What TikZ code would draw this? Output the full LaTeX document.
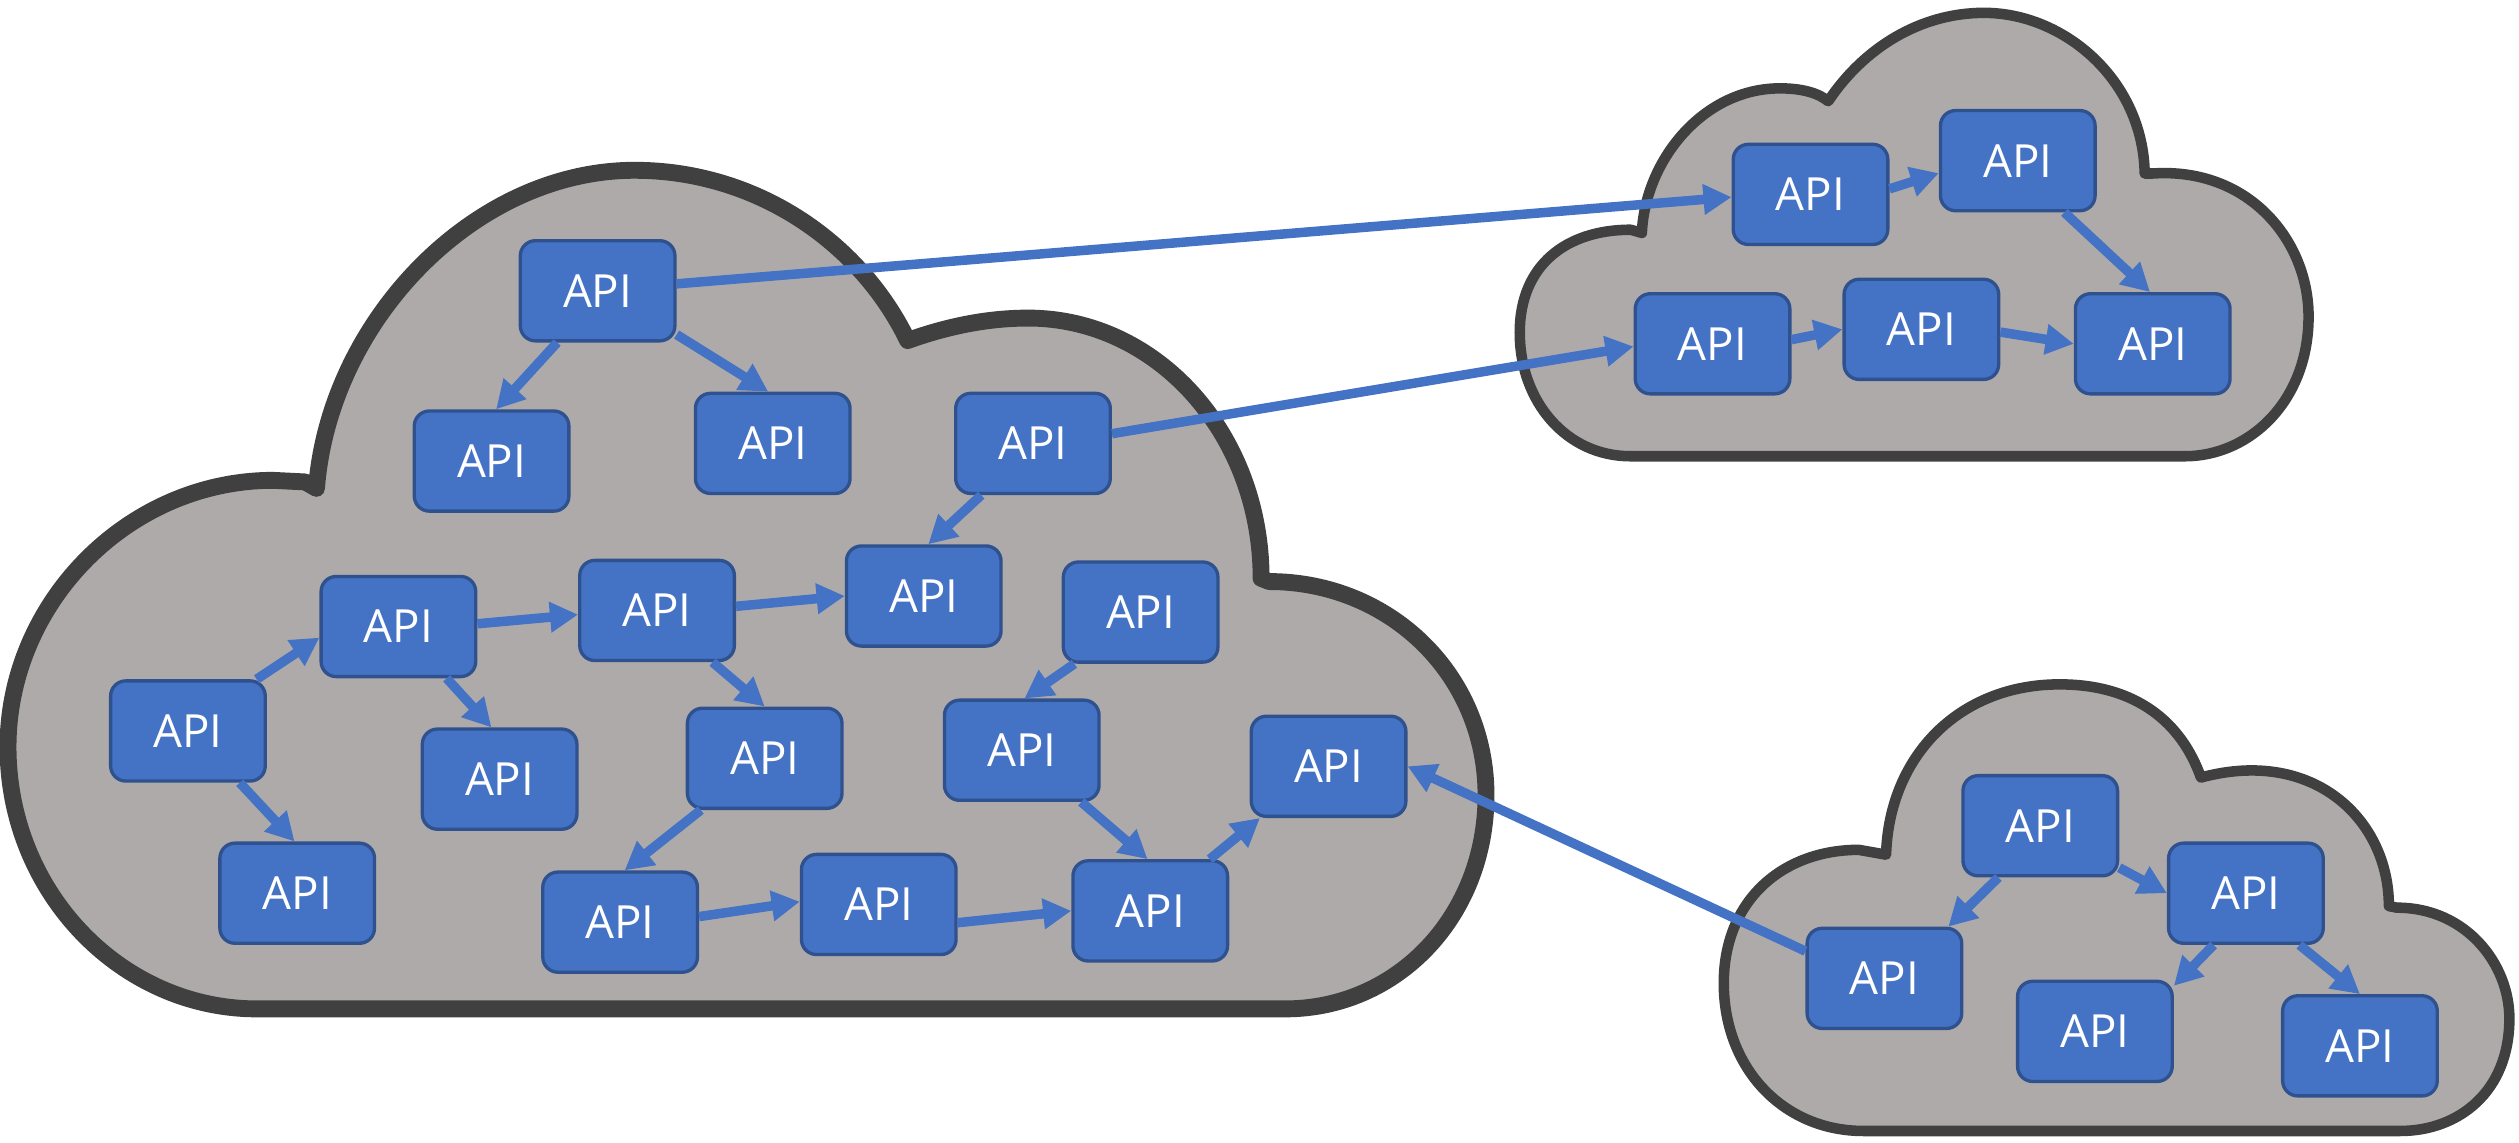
\documentclass[tikz,border=0pt]{standalone}
\usepackage{fontspec}
\setmainfont{Open Sans}
\usetikzlibrary{arrows.meta}
\definecolor{cloudfill}{HTML}{AEAAAA}
\definecolor{cloudline}{HTML}{404040}
\definecolor{apifill}{HTML}{4472C4}
\definecolor{apiline}{HTML}{2F528F}
\definecolor{linkblue}{HTML}{4472C4}
\begin{document}
\begin{tikzpicture}[x=0.016065cm, y=-0.016065cm,
  api/.style={draw=apiline, line width=0.95pt, fill=apifill, rounded corners=4.3pt,
    minimum width=44pt, minimum height=28.5pt, inner sep=0pt, text=white,
    font=\fontsize{13}{15}\selectfont},
  flow/.style={draw=linkblue, line width=2.7pt, -{Triangle[length=8pt,width=8.3pt]}},
  bigcloud/.style={fill=cloudfill, draw=cloudline, line width=4.8pt, line join=round},
  smallcloud/.style={fill=cloudfill, draw=cloudline, line width=3pt, line join=round}]
\useasboundingbox (0,0) rectangle (1568,711);

% large cloud
\path[bigcloud] (160,628)
  .. controls (75,628) and (5,555) .. (5,465)
  .. controls (5,375) and (80,299) .. (170,299)
  -- (190,300) -- (197,304)
  .. controls (205,200) and (295,106) .. (395,106)
  .. controls (470,106) and (535,150) .. (565,212)
  .. controls (590,203) and (615,198) .. (640,198)
  .. controls (720,198) and (785,270) .. (785,360)
  -- (790,362)
  .. controls (865,362) and (925,420) .. (925,495)
  .. controls (925,570) and (870,628) .. (800,628)
  -- cycle;

% upper right cloud
\path[smallcloud] (1015,284)
  .. controls (975,284) and (946,250) .. (946,207)
  .. controls (946,165) and (975,143) .. (1015,143)
  -- (1022,145)
  .. controls (1024,100) and (1060,55) .. (1108,55)
  .. controls (1122,55) and (1132,58) .. (1138,63)
  .. controls (1160,30) and (1195,8) .. (1235,8)
  .. controls (1285,8) and (1334,50) .. (1335,108)
  -- (1340,108)
  .. controls (1400,104) and (1437,150) .. (1437,197)
  .. controls (1437,250) and (1400,284) .. (1360,284)
  -- cycle;

% lower right cloud
\path[smallcloud] (1160,704)
  .. controls (1110,704) and (1073,665) .. (1073,612)
  .. controls (1073,560) and (1110,529) .. (1157,529)
  -- (1174,532)
  .. controls (1176,470) and (1220,426) .. (1282,426)
  .. controls (1330,426) and (1358,450) .. (1370,484)
  .. controls (1440,465) and (1487,510) .. (1487,564)
  -- (1492,565)
  .. controls (1535,565) and (1562,600) .. (1562,634)
  .. controls (1562,680) and (1530,704) .. (1494,704)
  -- cycle;

% API boxes
\node[api] (n1)  at (372,181) {API};
\node[api] (n2)  at (306,287) {API};
\node[api] (n3)  at (481,276) {API};
\node[api] (n4)  at (643,276) {API};
\node[api] (n5)  at (248,390) {API};
\node[api] (n6)  at (409,380) {API};
\node[api] (n7)  at (575,371) {API};
\node[api] (n8)  at (710,381) {API};
\node[api] (n9)  at (117,455) {API};
\node[api] (n10) at (311,485) {API};
\node[api] (n11) at (476,472) {API};
\node[api] (n12) at (636,467) {API};
\node[api] (n13) at (827,477) {API};
\node[api] (n14) at (185,556) {API};
\node[api] (n15) at (386,574) {API};
\node[api] (n16) at (547,563) {API};
\node[api] (n17) at (716,567) {API};
\node[api] (n18) at (1127,121) {API};
\node[api] (n19) at (1256,100) {API};
\node[api] (n20) at (1066,214) {API};
\node[api] (n21) at (1196,205) {API};
\node[api] (n22) at (1340,214) {API};
\node[api] (n23) at (1270,514) {API};
\node[api] (n24) at (1398,556) {API};
\node[api] (n25) at (1173,609) {API};
\node[api] (n26) at (1304,642) {API};
\node[api] (n27) at (1469,651) {API};

% calls between APIs
\draw[flow] (n1.-128) -- (n2.85);
\draw[flow] (n1.-29) -- (n3.95);
\draw[flow] (n1.5) -- (n18.-178);
\draw[flow] (n4.7) -- (n20.-178);
\draw[flow] (n4.-135) -- (n7.85);
\draw[flow] (n9.37) -- (n5.-172);
\draw[flow] (n9.-45) -- (n14.93);
\draw[flow] (n5.2) -- (n6.-177);
\draw[flow] (n5.-47) -- (n10.99);
\draw[flow] (n6.3) -- (n7.180);
\draw[flow] (n6.-43) -- (n11.90);
\draw[flow] (n11.-141) -- (n15.85);
\draw[flow] (n15.4) -- (n16.178);
\draw[flow] (n16.-13) -- (n17.180);
\draw[flow] (n8.-142) -- (n12.87);
\draw[flow] (n12.-41) -- (n17.93);
\draw[flow] (n17.41) -- (n13.-143);
\draw[flow] (n25.161) -- (n13.0);
\draw[flow] (n18.4) -- (n19.-171);
\draw[flow] (n19.-48) -- (n22.93);
\draw[flow] (n20.3) -- (n21.180);
\draw[flow] (n21.-2) -- (n22.180);
\draw[flow] (n23.-28) -- (n24.180);
\draw[flow] (n23.-129) -- (n25.39);
\draw[flow] (n24.-122) -- (n26.30);
\draw[flow] (n24.-44) -- (n27.90);
\end{tikzpicture}
\end{document}
